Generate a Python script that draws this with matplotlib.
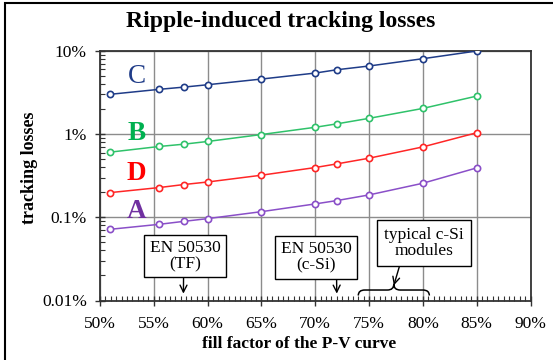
import matplotlib
matplotlib.use("Agg")
import matplotlib.pyplot as plt
import matplotlib.patches as patches
import matplotlib.transforms as transforms
from matplotlib.path import Path
from matplotlib.ticker import FixedLocator, MultipleLocator, FuncFormatter

plt.rcParams['font.family'] = ['Liberation Serif', 'DejaVu Serif']

# fill factor (%) of the measured points
fill_factor = [50.9, 55.5, 57.8, 60, 65, 70, 72, 75, 80, 85]

# tracking losses (%) per curve
loss_C = [3.01, 3.46, 3.68, 3.93, 4.60, 5.43, 5.95, 6.6, 8.08, 10.0]
loss_B = [0.607, 0.711, 0.758, 0.817, 0.99, 1.21, 1.33, 1.55, 2.04, 2.87]
loss_D = [0.198, 0.228, 0.248, 0.266, 0.321, 0.397, 0.439, 0.514, 0.703, 1.04]
loss_A = [0.0717, 0.0824, 0.0895, 0.0965, 0.117, 0.145, 0.159, 0.186, 0.257, 0.393]

series = [
    ('C', loss_C, '#1F3C88', '#1F3C88', 4.9, 'normal'),
    ('B', loss_B, '#2FC26A', '#00B050', 1.03, 'bold'),
    ('D', loss_D, '#FF2626', '#FF0000', 0.34, 'bold'),
    ('A', loss_A, '#8A4FC8', '#7030A0', 0.119, 'bold'),
]

x_ticks = [50, 55, 60, 65, 70, 75, 80, 85, 90]
y_ticks = [0.01, 0.1, 1, 10]
y_tick_labels = ['0.01%', '0.1%', '1%', '10%']

fig = plt.figure(figsize=(5.53, 3.60), dpi=100)
ax = fig.add_axes([100 / 553, 1 - 300.5 / 360, 430.5 / 553, 249.5 / 360])

for name, vals, lc, tc, ylab, w in series:
    ax.plot(fill_factor, vals, color=lc, lw=1.1, marker='o', ms=4.5,
            mfc='white', mec=lc, mew=1.2, zorder=3)
    ax.text(53.4, ylab, name, color=tc, fontsize=19.5, fontweight=w,
            ha='center', va='center', zorder=4)

ax.set_xlim(50, 90)
ax.set_yscale('log')
ax.set_ylim(0.01, 10)
ax.xaxis.set_major_locator(FixedLocator(x_ticks))
ax.xaxis.set_minor_locator(MultipleLocator(0.5))
ax.xaxis.set_major_formatter(FuncFormatter(lambda v, p: '%d%%' % v))
ax.set_yticks(y_ticks)
ax.set_yticklabels(y_tick_labels)
ax.yaxis.set_minor_locator(FixedLocator(
    [m * d for d in [0.01, 0.1, 1] for m in range(2, 10)]))
ax.yaxis.set_minor_formatter(FuncFormatter(lambda v, p: ''))

ax.grid(True, which='major', color='#8c8c8c', lw=1)
ax.tick_params(which='major', direction='inout', length=7, width=1,
               labelsize=12.5, color='#333333')
ax.tick_params(axis='x', which='major', pad=8)
ax.tick_params(axis='y', which='major', pad=6)
ax.tick_params(which='minor', direction='in', length=3.5, width=0.8,
               color='#333333')
for s in ax.spines.values():
    s.set_color('#333333')
    s.set_linewidth(1.3)

# annotation boxes with arrows
box = dict(boxstyle='square,pad=0.3', fc='white', ec='black', lw=1)
ax.annotate('EN 50530\n(TF)', xy=(57.75, 0.0121), xytext=(57.9, 0.0343),
            ha='center', va='center', fontsize=12.5, linespacing=1.0,
            bbox=box, zorder=5,
            arrowprops=dict(arrowstyle='->', color='black', lw=1,
                            relpos=(0.48, 0), shrinkA=0, shrinkB=0))
ax.annotate('EN 50530\n(c-Si)', xy=(72, 0.0121), xytext=(70.07, 0.033),
            ha='center', va='center', fontsize=12.5, linespacing=1.0,
            bbox=box, zorder=5,
            arrowprops=dict(arrowstyle='->', color='black', lw=1,
                            relpos=(0.79, 0), shrinkA=0, shrinkB=0))
ax.annotate('typical c-Si\nmodules', xy=(77.3, 0.0152), xytext=(80.1, 0.0493),
            ha='center', va='center', fontsize=12.5, linespacing=1.0,
            bbox=dict(boxstyle='square,pad=0.4', fc='white', ec='black', lw=1),
            zorder=5,
            arrowprops=dict(arrowstyle='->', color='black', lw=1,
                            relpos=(0.22, 0), shrinkA=0, shrinkB=0))

# curly brace over the typical c-Si range
trans = transforms.blended_transform_factory(ax.transData, ax.transAxes)
x0, x1, xm = 74.0, 80.6, 77.3
ye, ym, yt = 0.020, 0.042, 0.066
verts = [(x0, ye), (x0, ym), (x0 + 0.6, ym), (xm - 0.6, ym), (xm, ym), (xm, yt),
         (xm, ym), (xm + 0.6, ym), (x1 - 0.6, ym), (x1, ym), (x1, ye)]
codes = [Path.MOVETO, Path.CURVE3, Path.CURVE3, Path.LINETO, Path.CURVE3, Path.CURVE3,
         Path.CURVE3, Path.CURVE3, Path.LINETO, Path.CURVE3, Path.CURVE3]
ax.add_patch(patches.PathPatch(Path(verts, codes), transform=trans, fill=False,
                               lw=1.1, ec='black', zorder=5, clip_on=False))

fig.text(0.508, 1 - 22 / 360, 'Ripple-induced tracking losses', fontsize=17,
         fontweight='bold', ha='center', va='center')
fig.text(298.7 / 553, 1 - 344 / 360, 'fill factor of the P-V curve', fontsize=12.5,
         fontweight='bold', ha='center', va='center')
fig.text(30 / 553, 1 - 168 / 360, 'tracking losses', fontsize=13,
         fontweight='bold', ha='center', va='center', rotation=90)

fig.add_artist(patches.Rectangle((5 / 553, -0.1), 1.2, 1.1 - 3 / 360,
                                 transform=fig.transFigure, fill=False,
                                 ec='black', lw=1.5))

fig.savefig('out.png', dpi=100)
